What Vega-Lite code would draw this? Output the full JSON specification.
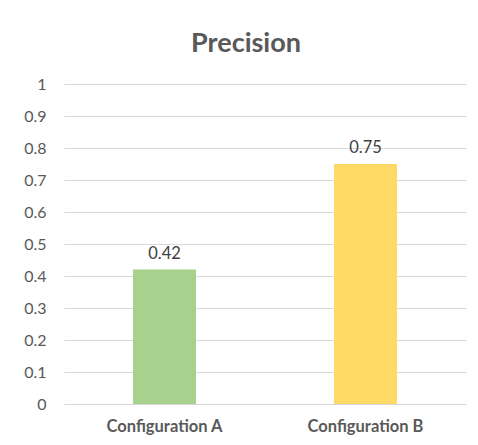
{
  "$schema": "https://vega.github.io/schema/vega-lite/v6.json",
  "width": 402,
  "height": 320,
  "autosize": "none",
  "padding": {"left": 64, "top": 84, "right": 12, "bottom": 41},
  "background": "white",
  "title": {
    "text": "Precision",
    "fontSize": 27,
    "font": "Lato",
    "fontWeight": "bold",
    "color": "#595959",
    "anchor": "middle",
    "dx": -19,
    "offset": 18
  },
  "data": {
    "values": [
      {"config": "Configuration A", "precision": 0.42},
      {"config": "Configuration B", "precision": 0.75}
    ]
  },
  "encoding": {
    "x": {
      "field": "config",
      "type": "nominal",
      "sort": null,
      "scale": {"paddingInner": 0, "paddingOuter": 0},
      "axis": {
        "title": null,
        "labelAngle": 0,
        "labelFont": "Lato",
        "labelFontSize": 16.5,
        "labelFontWeight": "bold",
        "labelColor": "#595959",
        "labelPadding": 14,
        "ticks": false,
        "domain": false,
        "grid": false
      }
    },
    "y": {
      "field": "precision",
      "type": "quantitative",
      "scale": {"domain": [0, 1], "nice": false},
      "axis": {
        "title": null,
        "values": [0, 0.1, 0.2, 0.3, 0.4, 0.5, 0.6, 0.7, 0.8, 0.9, 1],
        "format": "~g",
        "labelFont": "Lato",
        "labelFontSize": 16,
        "labelColor": "#595959",
        "labelPadding": 18,
        "ticks": false,
        "domain": false,
        "grid": true,
        "gridColor": "#d9d9d9",
        "gridWidth": 1
      }
    }
  },
  "layer": [
    {
      "mark": {"type": "bar", "size": 63},
      "encoding": {
        "color": {
          "field": "config",
          "type": "nominal",
          "scale": {"domain": ["Configuration A", "Configuration B"], "range": ["#A9D18E", "#FFD966"]},
          "legend": null
        }
      }
    },
    {
      "mark": {"type": "text", "baseline": "bottom", "dy": -8, "fontSize": 16.5, "font": "Lato", "color": "#404040"},
      "encoding": {
        "text": {"field": "precision", "type": "quantitative", "format": ".2f"}
      }
    }
  ],
  "config": {"view": {"stroke": null}}
}
